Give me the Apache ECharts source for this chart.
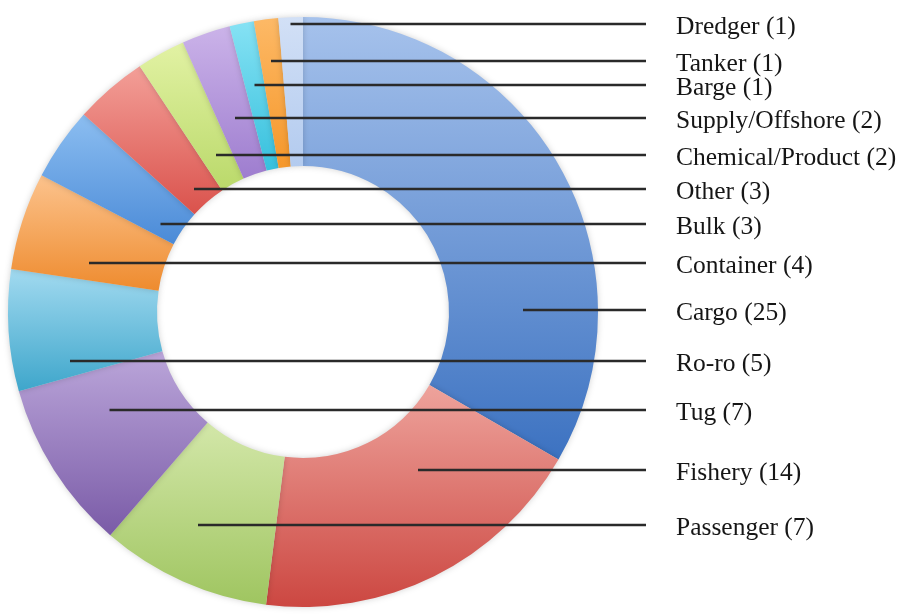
<!DOCTYPE html>
<html>
<head>
<meta charset="utf-8">
<title>Vessel types</title>
<script src="https://cdn.jsdelivr.net/npm/echarts@6/dist/echarts.min.js"></script>
<style>
    html, body { margin: 0; padding: 0; background: #fff; }
    #chart { width: 899px; height: 616px; }
</style>
</head>
<body>
<div id="chart"></div>
<script>
var categories = ['Cargo', 'Fishery', 'Passenger', 'Tug', 'Ro-ro', 'Container', 'Bulk', 'Other',
    'Chemical/Product', 'Supply/Offshore', 'Barge', 'Tanker', 'Dredger'];
var counts = [25, 14, 7, 7, 5, 4, 3, 3, 2, 2, 1, 1, 1];

// slice shading (top of slice -> bottom of slice)
var lightColors = ['#a6c2ec', '#eea39c', '#d3e7a9', '#bba6da', '#a2daf0', '#fcc38d', '#8cbef1',
    '#f39f98', '#e2f2a4', '#cbb3e9', '#86e2f4', '#fdb966', '#d2e0f6'];
var darkColors = ['#3c72c1', '#cc4741', '#9fc560', '#7a5ba7', '#3ea6cb', '#ee8b2e', '#4a8ad7',
    '#da524c', '#bad96a', '#9e7dcf', '#36c0dd', '#f5972a', '#b3cbef'];

// label column layout (px)
var labelLineY = [310, 470, 525, 410, 361, 263, 224, 189, 155, 118, 85, 61, 24];
var pieCenter = [303, 312];
var pieRadius = [146, 295];
var lineEndX = 646;
var labelX = 676;

var total = counts.reduce(function (a, b) { return a + b; }, 0);
var startAngles = [];
var acc = 0;
counts.forEach(function (v) {
    startAngles.push(acc / total * 360);
    acc += v;
});

// middle of the part of slice i that the horizontal line at y crosses
function anchorX(i, y) {
    var a0 = startAngles[i];
    var a1 = a0 + counts[i] / total * 360;
    var minX = null, maxX = null;
    for (var x = 0; x < 899; x++) {
        var dx = x - pieCenter[0], dy = y - pieCenter[1];
        var r = Math.sqrt(dx * dx + dy * dy);
        if (r < pieRadius[0] || r > pieRadius[1]) continue;
        var a = Math.atan2(dx, -dy) * 180 / Math.PI;
        if (a < 0) a += 360;
        if (a >= a0 && a <= a1) {
            if (minX === null) minX = x;
            maxX = x;
        }
    }
    return minX === null ? pieCenter[0] : (minX + maxX) / 2;
}

var pieData = categories.map(function (name, i) {
    return {
        name: name,
        value: counts[i],
        itemStyle: {
            color: new echarts.graphic.LinearGradient(0, 0, 0, 1, [
                {offset: 0, color: lightColors[i]},
                {offset: 1, color: darkColors[i]}
            ])
        }
    };
});

// same slices again, invisible, only to carry the labels and leader lines on top
var labelData = categories.map(function (name, i) {
    return { name: name, value: counts[i] };
});

var myChart = echarts.init(document.getElementById('chart'));

var option = {
    backgroundColor: '#ffffff',
    animation: false,
    series: [
        {
            type: 'pie',
            z: 2,
            center: pieCenter,
            radius: pieRadius,
            startAngle: 90,
            clockwise: true,
            silent: true,
            itemStyle: {
                borderWidth: 0,
                shadowBlur: 6,
                shadowColor: 'rgba(0, 0, 0, 0.18)'
            },
            label: { show: false },
            labelLine: { show: false },
            data: pieData
        },
        {
            type: 'pie',
            z: 5,
            center: pieCenter,
            radius: pieRadius,
            startAngle: 90,
            clockwise: true,
            silent: true,
            avoidLabelOverlap: false,
            itemStyle: {
                color: 'rgba(0, 0, 0, 0)',
                borderWidth: 0
            },
            label: {
                show: true,
                position: 'outside',
                formatter: '{b} ({c})',
                fontFamily: "'Liberation Serif', 'Times New Roman', serif",
                fontSize: 25.5,
                color: '#161616',
                width: 260,
                overflow: 'none'
            },
            labelLine: {
                show: true,
                smooth: false,
                lineStyle: {
                    color: '#2a2a2a',
                    width: 2.5
                }
            },
            labelLayout: function (params) {
                var i = params.dataIndex;
                var y = labelLineY[i];
                return {
                    x: labelX,
                    y: y + 3,
                    align: 'left',
                    verticalAlign: 'middle',
                    labelLinePoints: [[anchorX(i, y), y], [lineEndX, y]]
                };
            },
            data: labelData
        }
    ]
};

myChart.setOption(option);
</script>
</body>
</html>
